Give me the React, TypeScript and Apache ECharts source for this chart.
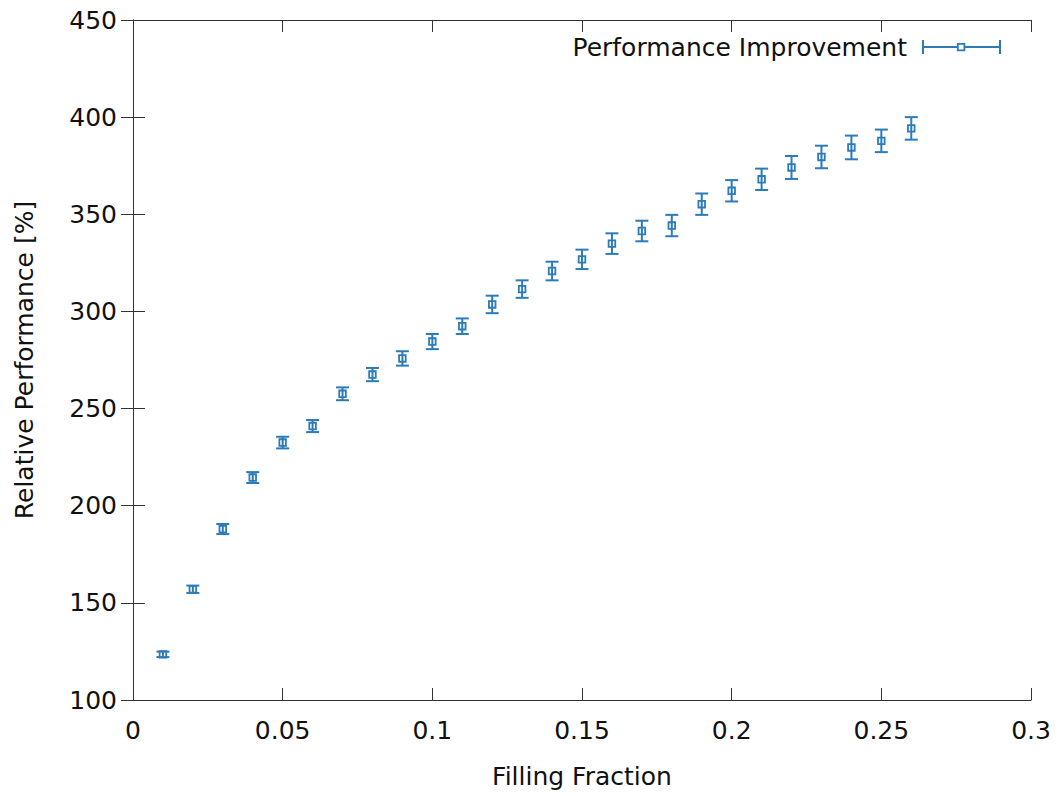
import React, { useEffect, useRef } from "react";
import * as echarts from "echarts";

const fillingFraction = [0.01, 0.02, 0.03, 0.04, 0.05, 0.06, 0.07, 0.08, 0.09, 0.1, 0.11, 0.12, 0.13, 0.14, 0.15, 0.16, 0.17, 0.18, 0.19, 0.2, 0.21, 0.22, 0.23, 0.24, 0.25, 0.26];
const relativePerformance = [123.5, 157, 188, 214.5, 232.5, 241, 257.6, 267.5, 275.8, 284.5, 292.4, 303.6, 311.5, 320.8, 326.8, 334.9, 341.4, 344.2, 355.2, 362.1, 368, 374.1, 379.5, 384.4, 387.8, 394.2];
const errors = [1.4, 1.9, 2.6, 2.8, 3.0, 3.1, 3.3, 3.4, 3.7, 3.9, 4.0, 4.5, 4.5, 4.8, 5.0, 5.3, 5.3, 5.5, 5.5, 5.5, 5.5, 5.9, 5.8, 6.1, 5.8, 5.8];
const seriesName = "Performance Improvement";
const xTitle = "Filling Fraction";
const yTitle = "Relative Performance [%]";

const BLUE = "#2b7bba";
const FONT = "DejaVu Sans";

export default function App() {
  const ref = useRef<HTMLDivElement>(null);
  useEffect(() => {
    if (!ref.current) return;
    const chart = echarts.init(ref.current, undefined, { renderer: "svg" });
    const data = fillingFraction.map((x, i) => [x, relativePerformance[i], errors[i]]);
    const axisLine = { show: true, lineStyle: { color: "#333", width: 1 } };
    const axisTick = { show: true, inside: true, length: 12, lineStyle: { color: "#333", width: 1 } };
    const label = { color: "#111", fontSize: 25, fontFamily: FONT };
    chart.setOption({
      animation: false,
      backgroundColor: "#fff",
      grid: { left: 133, right: 32, top: 20, bottom: 96, containLabel: false },
      xAxis: [
        {
          type: "value", min: 0, max: 0.3, interval: 0.05, position: "bottom",
          axisLine, axisTick, splitLine: { show: false },
          axisLabel: { ...label, margin: 18 },
          name: xTitle, nameLocation: "middle", nameGap: 64,
          nameTextStyle: { ...label },
        },
        {
          type: "value", min: 0, max: 0.3, interval: 0.05, position: "top",
          axisLine, axisTick, splitLine: { show: false }, axisLabel: { show: false },
        },
      ],
      yAxis: [
        {
          type: "value", min: 100, max: 450, interval: 50, position: "left",
          axisLine, axisTick, splitLine: { show: false },
          axisLabel: { ...label, margin: 16 },
          name: yTitle, nameLocation: "middle", nameGap: 96, nameRotate: 90,
          nameTextStyle: { ...label },
        },
        {
          type: "value", min: 100, max: 450, interval: 50, position: "right",
          axisLine, axisTick, splitLine: { show: false }, axisLabel: { show: false },
        },
      ],
      series: [
        {
          name: seriesName,
          type: "custom",
          xAxisIndex: 0,
          yAxisIndex: 0,
          data,
          encode: { x: 0, y: [1] },
          renderItem: (params: any, api: any) => {
            const x = api.value(0);
            const y = api.value(1);
            const e = api.value(2);
            const c = api.coord([x, y]);
            const lo = api.coord([x, y - e]);
            const hi = api.coord([x, y + e]);
            const hw = 6.5;
            const s = 3.3;
            const st = { stroke: BLUE, lineWidth: 2, fill: "none" };
            return {
              type: "group",
              children: [
                { type: "line", shape: { x1: c[0], y1: lo[1], x2: c[0], y2: hi[1] }, style: st },
                { type: "line", shape: { x1: c[0] - hw, y1: lo[1], x2: c[0] + hw, y2: lo[1] }, style: st },
                { type: "line", shape: { x1: c[0] - hw, y1: hi[1], x2: c[0] + hw, y2: hi[1] }, style: st },
                { type: "rect", shape: { x: c[0] - s, y: c[1] - s, width: 2 * s, height: 2 * s }, style: { stroke: BLUE, lineWidth: 1.8, fill: "none" } },
              ],
            };
          },
        },
      ],
      graphic: [
        { type: "text", x: 907, y: 47, style: { text: seriesName, font: `25px "${FONT}"`, fill: "#111", textAlign: "right", textVerticalAlign: "middle" } },
        { type: "line", shape: { x1: 923, y1: 47, x2: 1000, y2: 47 }, style: { stroke: BLUE, lineWidth: 2 } },
        { type: "line", shape: { x1: 923, y1: 40, x2: 923, y2: 54 }, style: { stroke: BLUE, lineWidth: 2 } },
        { type: "line", shape: { x1: 1000, y1: 40, x2: 1000, y2: 54 }, style: { stroke: BLUE, lineWidth: 2 } },
        { type: "rect", shape: { x: 957.8, y: 43.8, width: 6.6, height: 6.6 }, style: { stroke: BLUE, lineWidth: 1.8, fill: "#fff" } },
      ],
    });
    return () => chart.dispose();
  }, []);
  return <div ref={ref} style={{ position: "fixed", left: 0, top: 0, width: 1063, height: 796 }} />;
}
